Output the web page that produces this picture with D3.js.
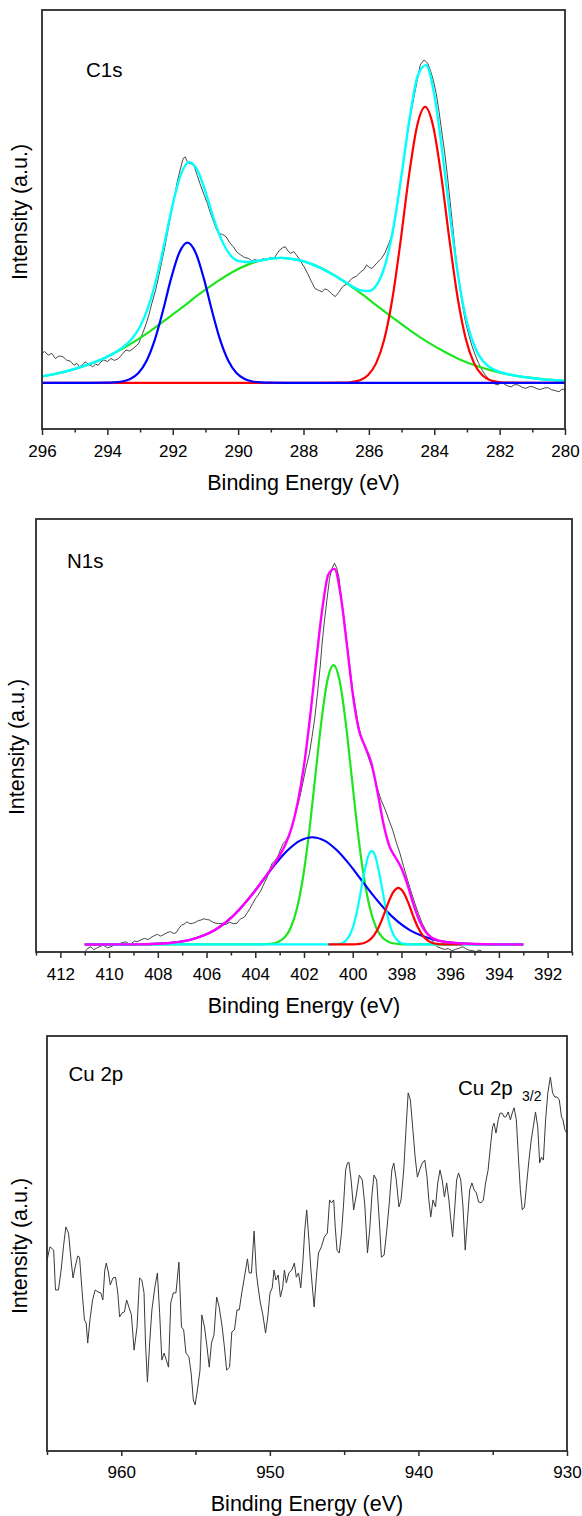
<!DOCTYPE html>
<html><head><meta charset="utf-8">
<script src="https://cdn.jsdelivr.net/npm/d3@7"></script>
<style>
body{margin:0;background:#fff}
svg{display:block}
</style>
</head><body>
<svg id="chart" width="582" height="1516"></svg>
<script>
// ---------------- DATA ----------------
// C1s panel (binding energy eV, intensity a.u.)
const c1sMajorTicks = [296,294,292,290,288,286,284,282,280];
const c1sMinorTicks = [295,293,291,289,287,285,283,281];
const c1sData = [[296.00,7.9],[295.92,8.4],[295.81,7.4],[295.70,7.9],[295.59,6.5],[295.48,7.2],[295.36,7.0],[295.25,6.1],[295.13,5.8],[295.02,4.7],[294.93,5.2],[294.85,4.3],[294.76,4.8],[294.68,5.6],[294.56,4.9],[294.45,4.3],[294.36,5.0],[294.28,4.7],[294.20,5.6],[294.11,6.1],[294.00,5.7],[293.89,6.5],[293.78,6.0],[293.66,6.5],[293.55,7.6],[293.43,8.8],[293.32,8.5],[293.21,9.2],[293.12,9.9],[293.04,10.6],[292.92,13.3],[292.81,15.9],[292.72,18.5],[292.64,21.3],[292.52,25.0],[292.41,29.4],[292.32,33.2],[292.24,36.5],[292.15,40.8],[292.07,44.5],[291.96,49.5],[291.85,54.4],[291.76,57.6],[291.68,60.2],[291.62,60.6],[291.56,59.4],[291.51,58.9],[291.42,58.7],[291.34,58.0],[291.25,55.6],[291.17,53.5],[291.05,50.6],[290.94,48.1],[290.85,45.6],[290.77,43.7],[290.68,41.5],[290.60,40.1],[290.48,39.8],[290.37,39.2],[290.26,37.6],[290.15,36.5],[290.03,35.0],[289.92,34.3],[289.80,33.6],[289.69,33.4],[289.58,32.7],[289.47,33.1],[289.35,32.5],[289.24,33.3],[289.13,32.9],[289.02,33.6],[288.90,33.4],[288.81,34.6],[288.73,35.6],[288.64,36.2],[288.56,36.5],[288.47,35.3],[288.39,34.7],[288.30,35.2],[288.22,34.3],[288.13,33.3],[288.05,32.0],[287.96,30.8],[287.88,29.4],[287.76,27.2],[287.65,25.3],[287.54,24.8],[287.43,24.4],[287.35,25.2],[287.26,24.9],[287.14,23.9],[287.03,23.1],[286.92,24.3],[286.80,25.8],[286.66,26.6],[286.52,28.0],[286.38,28.6],[286.24,29.8],[286.15,30.4],[286.07,31.6],[285.98,30.9],[285.90,30.7],[285.75,32.2],[285.61,33.4],[285.50,35.0],[285.39,37.4],[285.27,40.1],[285.16,46.0],[285.05,52.6],[284.93,60.0],[284.82,66.9],[284.71,72.5],[284.60,77.6],[284.51,81.6],[284.43,85.2],[284.37,86.0],[284.31,86.6],[284.26,86.2],[284.20,85.7],[284.11,83.6],[284.03,81.2],[283.94,77.6],[283.86,73.2],[283.78,68.0],[283.69,62.4],[283.60,55.8],[283.52,49.0],[283.43,41.5],[283.35,34.7],[283.25,27.5],[283.15,21.5],[283.05,16.6],[282.95,13.0],[282.85,10.0],[282.75,7.5],[282.65,5.4],[282.55,3.6],[282.45,2.2],[282.35,1.2],[282.25,0.4],[282.15,-0.3],[282.05,-0.6],[281.96,0.1],[281.88,-0.2],[281.77,-0.8],[281.65,-1.1],[281.54,-0.5],[281.43,-0.6],[281.31,-1.2],[281.20,-1.5],[281.08,-1.0],[280.97,-1.1],[280.86,-1.6],[280.75,-1.8],[280.63,-1.4],[280.52,-1.3],[280.41,-1.9],[280.30,-2.1],[280.18,-2.4],[280.09,-1.7],[280.00,-1.8]];
const c1sGreen = [[296,1.7],[295.7,2.2],[295.2,3.2],[294.7,4.5],[294.2,6.2],[293.7,8.4],[293.2,10.9],[292.7,13.8],[292.2,17.0],[291.7,20.3],[291.2,23.7],[290.7,26.8],[290.2,29.6],[289.7,31.7],[289.2,33.0],[288.7,33.5],[288.2,33.0],[287.7,31.7],[287.2,29.6],[286.7,26.8],[286.2,23.7],[285.7,20.3],[285.2,17.0],[284.7,13.8],[284.2,10.9],[283.7,8.4],[283.2,6.2],[282.7,4.5],[282.2,3.2],[281.7,2.2],[281.2,1.5],[280.7,0.96],[280,0.5]];
const c1sRed = [[296,0],[287.5,0],[286.78,0.04],[286.53,0.19],[286.28,0.65],[286.03,2.0],[285.78,5.2],[285.53,11.6],[285.28,22.6],[285.03,38.0],[284.78,55.1],[284.53,68.7],[284.28,74.0],[284.03,68.7],[283.78,55.1],[283.53,38.0],[283.28,22.6],[283.03,11.6],[282.78,5.2],[282.53,2.0],[282.28,0.65],[282.03,0.19],[281.78,0.04],[281,0],[280,0]];
const c1sBlue = [[296,0],[294.5,0],[294.05,0.02],[293.8,0.09],[293.55,0.33],[293.3,1.0],[293.05,2.6],[292.8,5.9],[292.55,11.5],[292.3,19.3],[292.05,28.0],[291.8,34.9],[291.55,37.6],[291.3,34.9],[291.05,28.0],[290.8,19.3],[290.55,11.5],[290.3,5.9],[290.05,2.6],[289.8,1.0],[289.55,0.33],[289.3,0.09],[289.05,0.02],[288.5,0],[280,0]];
const c1sCyan = [[296,1.7],[295.5,2.6],[295,3.7],[294.5,5.2],[294,7.0],[293.75,8.2],[293.5,9.7],[293.25,11.8],[293,15.1],[292.75,20.3],[292.5,27.9],[292.25,37.6],[292,47.9],[291.75,55.9],[291.5,59.2],[291.25,57.1],[291,51.3],[290.75,44.1],[290.5,38.2],[290.25,34.4],[290,32.7],[289.75,32.4],[289.5,32.6],[289,33.3],[288.7,33.5],[288.5,33.4],[288,32.6],[287.5,30.9],[287,28.5],[286.75,27.2],[286.5,25.8],[286.25,24.8],[286,24.6],[285.75,26.4],[285.5,31.7],[285.25,41.6],[285,55.8],[284.75,71.1],[284.5,82.5],[284.25,85.2],[284,77.3],[283.75,61.7],[283.5,43.5],[283.25,27.5],[283,16.2],[282.75,9.4],[282.5,5.7],[282.25,3.9],[282,2.9],[281.5,1.9],[281,1.2],[280.5,0.8],[280,0.5]];

// N1s panel
const n1sMajorTicks = [412,410,408,406,404,402,400,398,396,394,392];
const n1sMinorTicks = [413,411,409,407,405,403,401,399,397,395,393,391];
const n1sData = [[410.98,-1.9],[410.87,-1.0],[410.75,-0.6],[410.63,-1.4],[410.52,-1.0],[410.37,-0.5],[410.22,-0.2],[410.07,-0.9],[409.92,-0.6],[409.77,-0.1],[409.61,0.1],[409.46,0.5],[409.31,0.7],[409.20,0.2],[409.08,0.3],[408.96,0.9],[408.85,0.7],[408.70,1.2],[408.55,1.6],[408.40,1.3],[408.24,2.0],[408.12,2.4],[408.01,2.7],[407.90,2.2],[407.79,2.5],[407.63,3.1],[407.48,3.4],[407.36,2.9],[407.25,3.1],[407.14,4.2],[407.03,5.1],[406.92,5.4],[406.80,6.0],[406.69,5.5],[406.57,5.6],[406.45,5.9],[406.34,6.3],[406.22,6.5],[406.11,6.8],[406.00,6.6],[405.89,6.5],[405.77,6.0],[405.66,5.7],[405.51,5.5],[405.36,5.6],[405.20,5.3],[405.05,5.9],[404.90,5.5],[404.75,5.6],[404.67,6.3],[404.60,6.8],[404.52,7.0],[404.44,7.3],[404.33,8.4],[404.22,9.5],[404.10,10.9],[403.99,12.2],[403.88,13.1],[403.76,14.4],[403.65,16.0],[403.53,17.5],[403.42,19.6],[403.31,21.5],[403.19,22.2],[403.08,23.2],[402.96,25.2],[402.85,26.8],[402.73,27.6],[402.62,29.0],[402.50,31.2],[402.39,33.8],[402.28,36.3],[402.17,39.1],[402.05,42.7],[401.94,46.2],[401.78,50.5],[401.67,55.0],[401.56,59.9],[401.44,66.9],[401.33,74.0],[401.26,79.5],[401.18,84.6],[401.06,91.2],[400.95,97.0],[400.85,99.6],[400.75,101.0],[400.66,99.8],[400.57,97.4],[400.45,91.0],[400.34,85.5],[400.22,79.0],[400.11,73.2],[400.00,67.2],[399.89,62.8],[399.77,58.2],[399.66,55.3],[399.55,53.2],[399.43,51.0],[399.32,48.8],[399.20,46.6],[399.09,43.9],[398.97,40.9],[398.82,38.0],[398.66,35.6],[398.51,32.9],[398.36,30.3],[398.21,27.0],[398.06,24.1],[397.91,20.6],[397.75,17.1],[397.60,13.9],[397.45,10.9],[397.30,8.1],[397.15,5.6],[397.00,3.7],[396.84,2.0],[396.69,0.6],[396.54,-0.6],[396.38,-1.0],[396.23,-1.3],[396.08,-1.1],[395.93,-1.7],[395.78,-1.3],[395.63,-1.0],[395.48,-0.6],[395.36,-1.1],[395.25,-1.5],[395.10,-1.6],[394.94,-1.9],[394.82,-1.5],[394.71,-1.7]];
const n1sGreen = [[411,0],[404.5,0],[403.79,0.02],[403.54,0.07],[403.29,0.24],[403.04,0.73],[402.79,1.9],[402.54,4.5],[402.29,9.5],[402.04,17.8],[401.79,29.7],[401.54,44.3],[401.29,58.9],[401.04,69.9],[400.79,74.0],[400.54,69.9],[400.29,58.9],[400.04,44.3],[399.79,29.7],[399.54,17.8],[399.29,9.5],[399.04,4.5],[398.79,1.9],[398.54,0.73],[398.29,0.24],[398.04,0.07],[397.79,0.02],[397,0],[393,0]];
const n1sBlue = [[411,0],[409.66,0.01],[409.16,0.03],[408.66,0.06],[408.16,0.14],[407.66,0.32],[407.16,0.65],[406.66,1.25],[406.16,2.3],[405.66,3.8],[405.16,6.1],[404.66,9.2],[404.16,13.0],[403.66,17.2],[403.16,21.4],[402.66,25.0],[402.16,27.5],[401.66,28.4],[401.16,27.5],[400.66,25.0],[400.16,21.4],[399.66,17.2],[399.16,13.0],[398.66,9.2],[398.16,6.1],[397.66,3.8],[397.16,2.3],[396.66,1.25],[396.16,0.65],[395.66,0.32],[395.16,0.14],[394.66,0.06],[394.16,0.03],[393.66,0.01],[393,0]];
const n1sCyan = [[411,0],[401.2,0],[400.87,0.01],[400.72,0.04],[400.57,0.14],[400.42,0.42],[400.27,1.1],[400.12,2.5],[399.97,5.0],[399.82,8.9],[399.67,14.0],[399.52,19.2],[399.37,23.3],[399.22,24.8],[399.07,23.3],[398.92,19.2],[398.77,14.0],[398.62,8.9],[398.47,5.0],[398.32,2.5],[398.17,1.1],[398.02,0.42],[397.87,0.14],[397.72,0.04],[397.57,0.01],[397,0],[393,0]];
const n1sRed = [[401,0],[400.13,0.01],[399.93,0.04],[399.73,0.13],[399.53,0.4],[399.33,1.05],[399.13,2.4],[398.93,4.6],[398.73,7.7],[398.53,11.2],[398.33,13.9],[398.13,15.0],[397.93,13.9],[397.73,11.2],[397.53,7.7],[397.33,4.6],[397.13,2.4],[396.93,1.05],[396.73,0.4],[396.53,0.13],[396.33,0.04],[396.13,0.01],[395.5,0]];
const n1sMagenta = [[411,0],[410,0.01],[409,0.03],[408,0.19],[407.5,0.40],[407,0.80],[406.5,1.52],[406,2.70],[405.5,4.49],[405,7.04],[404.5,10.4],[404,14.3],[403.75,16.5],[403.5,18.7],[403.25,21.0],[403,23.6],[402.75,26.7],[402.5,31.1],[402.25,37.8],[402,47.4],[401.75,60.3],[401.5,75.0],[401.25,88.8],[401,98.0],[400.75,99.5],[400.5,92.7],[400.25,80.0],[400,66.4],[399.75,56.9],[399.5,52.5],[399.25,48.4],[399,41.0],[398.75,32.3],[398.5,26.1],[398.25,23.1],[398,20.2],[397.75,15.8],[397.5,10.5],[397.25,6.1],[397,3.3],[396.75,1.8],[396.5,1.1],[396,0.52],[395.5,0.25],[395,0.11],[394,0.02],[393,0]];

// Cu 2p panel
const cuMajorTicks = [960,950,940,930];
const cuMinorTicks = [965,955,945,935];
const cuData = [[965.00,46.0],[964.80,49.2],[964.55,48.4],[964.43,38.8],[964.23,38.8],[964.05,43.6],[963.88,49.6],[963.73,54.0],[963.55,52.5],[963.38,46.0],[963.25,41.7],[963.11,44.3],[962.93,47.0],[962.81,46.7],[962.63,38.1],[962.48,31.6],[962.36,30.8],[962.26,26.0],[962.11,31.6],[961.93,36.4],[961.76,38.8],[961.56,38.3],[961.38,38.1],[961.24,36.4],[961.11,43.6],[961.01,45.3],[960.86,42.9],[960.74,40.0],[960.56,41.7],[960.39,41.9],[960.24,38.3],[960.11,32.3],[959.94,33.3],[959.79,33.5],[959.64,36.4],[959.49,34.7],[959.32,32.8],[959.14,24.3],[958.94,29.9],[958.77,41.7],[958.62,41.2],[958.47,38.1],[958.37,26.0],[958.24,16.6],[958.09,26.0],[957.94,34.0],[957.74,39.5],[957.57,42.9],[957.42,33.3],[957.27,21.9],[957.12,23.6],[956.97,21.9],[956.82,20.2],[956.67,35.7],[956.50,38.1],[956.32,38.1],[956.12,45.5],[955.95,29.9],[955.80,29.2],[955.65,23.6],[955.45,22.7],[955.30,18.8],[955.15,12.3],[955.03,11.1],[954.85,15.4],[954.70,19.5],[954.58,32.8],[954.40,29.9],[954.23,25.1],[954.08,20.2],[953.93,26.0],[953.76,28.0],[953.58,37.1],[953.41,34.7],[953.21,29.9],[953.06,25.1],[952.91,19.5],[952.71,20.2],[952.56,28.7],[952.38,29.2],[952.21,34.0],[952.06,34.0],[951.89,38.1],[951.71,41.9],[951.51,46.3],[951.39,42.9],[951.24,42.9],[951.06,53.0],[950.91,42.9],[950.79,39.5],[950.64,35.7],[950.47,32.8],[950.29,28.4],[950.14,32.3],[949.99,38.1],[949.84,39.3],[949.72,43.6],[949.59,41.2],[949.44,42.4],[949.29,37.1],[949.14,39.3],[949.02,43.6],[948.89,40.5],[948.72,42.9],[948.52,43.6],[948.35,45.3],[948.22,41.9],[948.07,42.9],[947.92,39.3],[947.77,46.0],[947.65,53.3],[947.52,58.1],[947.37,50.8],[947.25,44.3],[947.15,40.0],[947.02,34.7],[946.87,41.9],[946.73,47.7],[946.53,49.2],[946.33,51.6],[946.13,52.5],[945.98,60.5],[945.85,59.8],[945.70,60.5],[945.60,54.0],[945.48,48.4],[945.33,47.7],[945.18,52.5],[945.05,58.8],[944.90,67.7],[944.78,69.4],[944.68,69.6],[944.53,65.3],[944.36,58.1],[944.18,61.7],[943.98,66.5],[943.78,65.3],[943.61,59.3],[943.43,47.7],[943.28,53.3],[943.13,61.7],[942.99,66.5],[942.81,65.3],[942.64,55.7],[942.49,46.7],[942.31,47.2],[942.14,52.8],[941.96,59.8],[941.79,67.7],[941.66,69.4],[941.49,65.3],[941.31,58.8],[941.17,60.5],[940.99,67.7],[940.82,78.6],[940.69,86.3],[940.54,84.6],[940.37,77.3],[940.22,70.8],[940.07,66.0],[939.92,67.7],[939.74,69.4],[939.57,70.1],[939.42,66.0],[939.30,60.5],[939.17,56.4],[939.02,60.5],[938.85,58.8],[938.70,64.6],[938.55,67.7],[938.40,65.3],[938.25,61.2],[938.10,64.6],[937.95,60.5],[937.82,55.7],[937.70,51.6],[937.55,58.8],[937.43,65.3],[937.30,67.0],[937.15,65.3],[937.00,58.8],[936.85,48.4],[936.70,55.7],[936.55,62.9],[936.40,64.6],[936.25,62.9],[936.10,62.2],[935.95,60.0],[935.78,59.8],[935.63,60.5],[935.48,64.6],[935.31,67.7],[935.13,74.2],[935.01,78.1],[934.91,79.0],[934.78,76.6],[934.63,79.8],[934.51,81.4],[934.36,81.4],[934.23,80.5],[934.11,80.5],[933.96,81.7],[933.81,79.8],[933.69,81.4],[933.56,82.7],[933.41,79.8],[933.26,70.1],[933.14,62.9],[933.01,58.1],[932.86,58.8],[932.71,64.6],[932.56,70.1],[932.41,74.9],[932.27,78.1],[932.12,81.7],[931.97,78.1],[931.84,69.4],[931.72,70.8],[931.59,70.1],[931.44,79.8],[931.29,86.3],[931.12,90.1],[930.97,86.3],[930.82,85.3],[930.67,85.3],[930.52,84.6],[930.37,80.5],[930.27,79.8],[930.15,77.5],[930.00,76.5]];

const xTitle = "Binding Energy (eV)";
const yTitle = "Intensity (a.u.)";

// ---------------- DRAWING ----------------
const FONT = '"Liberation Sans", Arial, Helvetica, sans-serif';
const svg = d3.select('#chart');
svg.append('rect').attr('width',582).attr('height',1516).attr('fill','#fff');

function drawPanel(p){
  const x = d3.scaleLinear().domain(p.xDomain).range([p.left, p.right]);
  const y = d3.scaleLinear().domain(p.yDomain).range([p.bottom, p.top]);
  const g = svg.append('g');
  const cid = 'clip-' + p.id;
  svg.append('clipPath').attr('id', cid).append('rect')
    .attr('x', p.left).attr('y', p.top)
    .attr('width', p.right - p.left).attr('height', p.bottom - p.top);
  const plot = g.append('g').attr('clip-path', `url(#${cid})`);
  p.series.forEach(s => {
    const line = d3.line().x(d => x(d[0])).y(d => y(d[1]))
      .curve(s.smooth ? d3.curveMonotoneX : d3.curveLinear);
    plot.append('path').datum(s.data).attr('d', line)
      .attr('fill', 'none').attr('stroke', s.color)
      .attr('stroke-width', s.width).attr('stroke-linejoin', 'round');
  });
  // frame
  g.append('rect').attr('x', p.left).attr('y', p.top)
    .attr('width', p.right - p.left).attr('height', p.bottom - p.top)
    .attr('fill', 'none').attr('stroke', '#2b2b2b').attr('stroke-width', 1.8);
  // minor ticks
  const minor = g.append('g').attr('transform', `translate(0,${p.bottom})`)
    .call(d3.axisBottom(x).tickValues(p.minor).tickSize(p.minorLen).tickFormat(''));
  minor.select('.domain').remove();
  minor.selectAll('line').attr('stroke', '#2b2b2b').attr('stroke-width', 1.5);
  // major ticks + labels
  const major = g.append('g').attr('transform', `translate(0,${p.bottom})`)
    .call(d3.axisBottom(x).tickValues(p.major).tickSize(p.majorLen).tickFormat(d3.format('d')));
  major.select('.domain').remove();
  major.attr('font-family', FONT).attr('font-size', 17);
  major.selectAll('line').attr('stroke', '#2b2b2b').attr('stroke-width', 1.5);
  major.selectAll('text').attr('y', p.labelOffset).attr('dy', null).attr('fill', '#000');
  // x title
  g.append('text').attr('x', (p.left + p.right) / 2).attr('y', p.bottom + p.titleOffset)
    .attr('text-anchor', 'middle').attr('font-family', FONT).attr('font-size', 21.5)
    .attr('fill', '#000').text(xTitle);
  // y title
  g.append('text').attr('transform', `translate(${p.yTitleX},${p.yTitleY}) rotate(-90)`)
    .attr('text-anchor', 'middle').attr('font-family', FONT).attr('font-size', 21.5)
    .attr('fill', '#000').text(yTitle);
  // labels
  p.labels.forEach(l => {
    g.append('text').attr('x', l.x).attr('y', l.y).attr('font-family', FONT)
      .attr('font-size', l.size).attr('fill', '#000').text(l.text);
  });
}

drawPanel({
  id: 'c1s', xDomain: [296, 280], yDomain: [-12.4, 100],
  left: 42, right: 565, top: 10, bottom: 429,
  major: c1sMajorTicks, minor: c1sMinorTicks, majorLen: 6, minorLen: 3.5,
  labelOffset: 28, titleOffset: 61, yTitleX: 27, yTitleY: 212,
  series: [
    {data: c1sData, color: '#333', width: 0.9, smooth: false},
    {data: c1sGreen, color: '#1ee61e', width: 2.2, smooth: true},
    {data: c1sCyan, color: '#00ffff', width: 2.4, smooth: true},
    {data: c1sRed, color: '#ff0000', width: 2.2, smooth: true},
    {data: c1sBlue, color: '#0000ff', width: 2.2, smooth: true}
  ],
  labels: [{text: 'C1s', x: 86, y: 77, size: 20.5}]
});

drawPanel({
  id: 'n1s', xDomain: [413, 391], yDomain: [-2, 112.7],
  left: 36, right: 572, top: 519, bottom: 952,
  major: n1sMajorTicks, minor: n1sMinorTicks, majorLen: 6, minorLen: 3.5,
  labelOffset: 28, titleOffset: 61, yTitleX: 23.5, yTitleY: 747,
  series: [
    {data: n1sData, color: '#333', width: 0.9, smooth: false},
    {data: n1sGreen, color: '#1ee61e', width: 2.2, smooth: true},
    {data: n1sBlue, color: '#0000ff', width: 2.2, smooth: true},
    {data: n1sCyan, color: '#00ffff', width: 2.2, smooth: true},
    {data: n1sRed, color: '#ff0000', width: 2.2, smooth: true},
    {data: n1sMagenta, color: '#ff00ff', width: 2.4, smooth: true}
  ],
  labels: [{text: 'N1s', x: 67, y: 568, size: 20.5}]
});

drawPanel({
  id: 'cu', xDomain: [965, 930], yDomain: [0, 100],
  left: 47, right: 567, top: 1036, bottom: 1451,
  major: cuMajorTicks, minor: cuMinorTicks, majorLen: 5, minorLen: 4,
  labelOffset: 27, titleOffset: 60, yTitleX: 27, yTitleY: 1246,
  series: [
    {data: cuData, color: '#3a3a3a', width: 1, smooth: false}
  ],
  labels: [
    {text: 'Cu 2p', x: 68.5, y: 1081, size: 20.5},
    {text: 'Cu 2p', x: 458, y: 1095, size: 20.5},
    {text: '3/2', x: 522, y: 1101, size: 14}
  ]
});
</script>
</body></html>
